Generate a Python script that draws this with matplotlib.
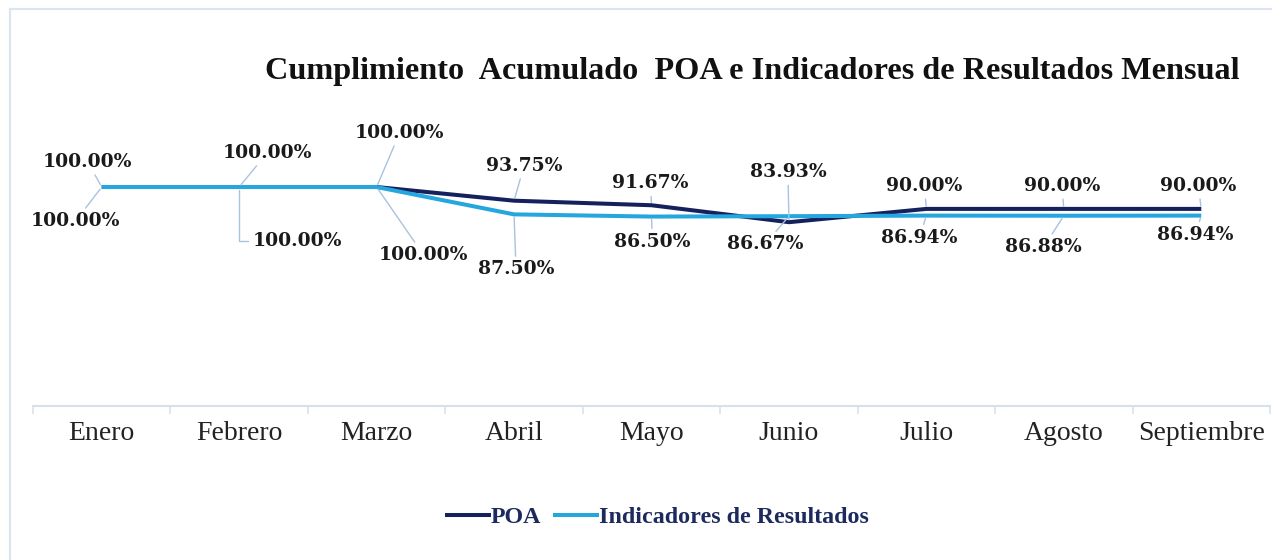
import matplotlib

matplotlib.use("Agg")
import matplotlib.pyplot as plt
import numpy as np
from matplotlib.lines import Line2D

months = ["Enero", "Febrero", "Marzo", "Abril", "Mayo", "Junio", "Julio", "Agosto", "Septiembre"]
poa = [100.00, 100.00, 100.00, 93.75, 91.67, 83.93, 90.00, 90.00, 90.00]
indicadores = [100.00, 100.00, 100.00, 87.50, 86.50, 86.67, 86.94, 86.88, 86.94]

NAVY = "#15215c"
SKY = "#25a6df"
LEADER = "#a9c2de"
AXIS_GREY = "#d8e1eb"

# label offsets from each point, in pixels (x right, y up)
poa_offsets = [(-14, 25), (28, 34), (23, 54), (10, 35), (-1, 22), (-1, 50), (-2, 23), (-2, 23), (-3, 23)]
ind_offsets = [(-26, -34), (58, -54), (47, -68), (2, -55), (1, -25), (-24, -28), (-7, -22), (-20, -31), (-6, -19)]

W, H, DPI = 1272, 560, 100
fig = plt.figure(figsize=(W / DPI, H / DPI), dpi=DPI)
fig.patch.set_facecolor("white")

# thin frame along top and left edge
fig.add_artist(Line2D([10 / W, 10 / W], [0, 1 - 9 / H], color="#dbe5f1", lw=1.5, transform=fig.transFigure))
fig.add_artist(Line2D([10 / W, 1], [1 - 9 / H, 1 - 9 / H], color="#dbe5f1", lw=1.5, transform=fig.transFigure))

ax = fig.add_axes([33 / W, (H - 406) / H, (1270 - 33) / W, 262.8 / H])
x = np.arange(len(months))
ax.plot(x, poa, color=NAVY, lw=2.9, solid_capstyle="butt", label="POA", zorder=3)
ax.plot(x, indicadores, color=SKY, lw=2.9, solid_capstyle="butt", label="Indicadores de Resultados", zorder=4)

ax.set_xlim(-0.5, len(months) - 0.5)
ax.set_ylim(0, 120)
for side in ("top", "left", "right"):
    ax.spines[side].set_visible(False)
ax.spines["bottom"].set_color(AXIS_GREY)
ax.spines["bottom"].set_linewidth(1.5)
ax.set_yticks([])
ax.set_xticks(np.arange(-0.5, len(months)), labels=[""] * (len(months) + 1))
ax.set_xticks(x, labels=months, minor=True)
ax.tick_params(axis="x", which="major", length=6, width=1.2, color=AXIS_GREY)
ax.tick_params(axis="x", which="minor", length=0, pad=11)
for lbl in ax.get_xticklabels(minor=True):
    lbl.set_fontfamily("Liberation Serif")
    lbl.set_fontsize(20)
    lbl.set_color("#222222")

px = 72 / DPI
label_font = dict(family="DejaVu Serif", weight="bold", size=13.5, color="#1a1a1a")


def add_labels(values, offsets):
    for i, (v, (dx, dy)) in enumerate(zip(values, offsets)):
        style = "angle,angleA=0,angleB=90,rad=0" if i == 1 and dy < 0 else "arc3"
        ax.annotate(
            f"{v:.2f}%",
            xy=(i, v),
            xytext=(dx * px, dy * px),
            textcoords="offset points",
            ha="center",
            va="center",
            annotation_clip=False,
            arrowprops=dict(arrowstyle="-", color=LEADER, lw=1.0, shrinkA=1, shrinkB=2, connectionstyle=style),
            zorder=5,
            **label_font,
        )


add_labels(poa, poa_offsets)
add_labels(indicadores, ind_offsets)

fig.text(
    752 / W,
    1 - 71 / H,
    "Cumplimiento  Acumulado  POA e Indicadores de Resultados Mensual",
    ha="center",
    va="center",
    family="Liberation Serif",
    weight="bold",
    size=23.2,
    color="#111111",
)

leg = fig.legend(
    loc="center",
    bbox_to_anchor=(657 / W, 1 - 517 / H),
    ncol=2,
    frameon=False,
    handlelength=1.9,
    handletextpad=0.0,
    columnspacing=0.5,
    prop=dict(family="Liberation Serif", weight="bold", size=17.3),
)
for t in leg.get_texts():
    t.set_color("#1c2a5e")

fig.savefig("out.png", dpi=DPI)
